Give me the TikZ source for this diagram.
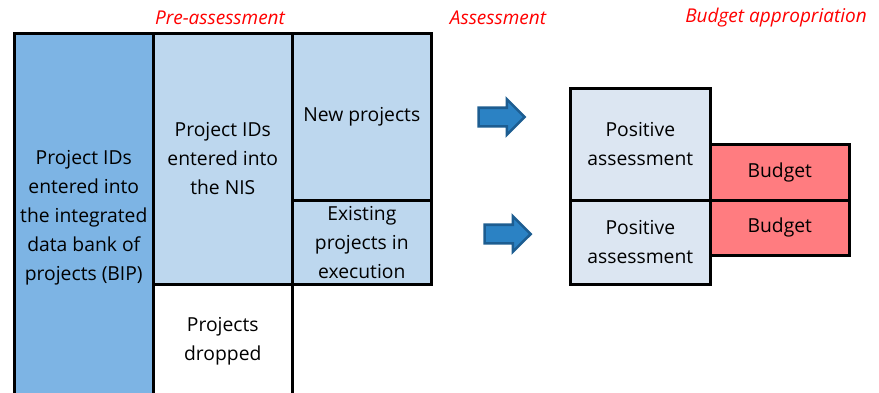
\documentclass[tikz,border=0pt]{standalone}
\usepackage{fontspec}
\setmainfont{Open Sans}
\usetikzlibrary{positioning, shapes.arrows}
\definecolor{bipblue}{HTML}{7DB4E4}
\definecolor{nisblue}{HTML}{BDD7EE}
\definecolor{posblue}{HTML}{DCE6F2}
\definecolor{budred}{HTML}{FF7C80}
\definecolor{arrowfill}{HTML}{2B82C4}
\definecolor{arrowline}{HTML}{1D5D91}

\tikzset{
  cell/.style={draw=black, line width=2.6pt, anchor=north west, align=center,
    inner sep=0pt, font=\fontsize{19.3}{29}\selectfont},
  phase/.style={anchor=center, text=red, font=\fontsize{19}{22}\selectfont\itshape},
  flow/.style={single arrow, draw=arrowline, fill=arrowfill, line width=2.6pt,
    minimum height=46pt, inner sep=8pt, single arrow head extend=8.5pt,
    single arrow head indent=0pt}
}

\begin{document}
\begin{tikzpicture}[x=1pt, y=1pt]

\clip (0,0) rectangle (879,-392);

% pre-assessment block
\node[cell, fill=bipblue, minimum width=139pt, minimum height=368pt] (bip) at (13,-32)
  {Project IDs\\entered into\\the integrated\\data bank of\\projects (BIP)};
\node[cell, fill=nisblue, minimum width=139pt, minimum height=251pt] (nis) at (152,-32)
  {Project IDs\\entered into\\the NIS};
\node[cell, fill=nisblue, minimum width=139pt, minimum height=167pt] (new) at (291,-32)
  {New projects};
\node[cell, fill=nisblue, minimum width=139pt, minimum height=84pt] (exist) at (291,-199)
  {Existing\\projects in\\execution};
\node[cell, fill=white, minimum width=139pt, minimum height=113pt] (drop) at (152,-283)
  {Projects\\dropped};

% assessment arrows
\node[flow] (arrA) at (497,-117) {};
\node[flow] (arrB) at (503,-234) {};

% assessment and budget
\node[cell, fill=posblue, minimum width=140pt, minimum height=112pt] (posA) at (569,-87)
  {Positive\\assessment};
\node[cell, fill=posblue, minimum width=140pt, minimum height=84pt] (posB) at (569,-199)
  {Positive\\assessment};
\node[cell, fill=budred, minimum width=139pt, minimum height=56pt] (budA) at (709,-143)
  {Budget};
\node[cell, fill=budred, minimum width=139pt, minimum height=55pt] (budB) at (709,-199)
  {Budget};

% phase titles
\node[phase] (pre) at (220,-18) {Pre-assessment};
\node[phase] (ass) at (498,-18) {Assessment};
\node[phase] (bud) at (776,-18) {Budget appropriation};

\end{tikzpicture}
\end{document}
